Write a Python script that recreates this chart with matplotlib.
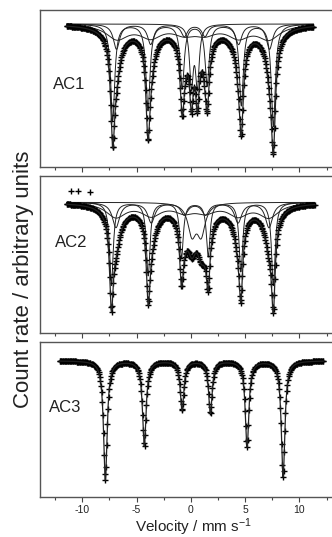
import numpy as np
import matplotlib
matplotlib.use('Agg')
from matplotlib import pyplot as plt
from matplotlib.ticker import MultipleLocator

plt.rcParams['font.family'] = ['Liberation Sans', 'DejaVu Sans']
plt.rcParams['axes.unicode_minus'] = False
plt.rcParams['mathtext.fontset'] = 'custom'
plt.rcParams['mathtext.rm'] = 'Liberation Sans'
plt.rcParams['mathtext.default'] = 'regular'

# Fitted subspectra: line positions (mm/s),
# line depths (% absorption) and line width (FWHM, mm/s)
ac1_s1_pos = [-7.2, -3.95, -0.8, 1.5, 4.65, 7.6]
ac1_s1_depth = [9.6, 8.6, 6.4, 6.1, 8.1, 10.2]
ac1_s1_fwhm = 0.45
ac1_s2_pos = [-6.85, -3.7, -0.6, 1.3, 4.4, 7.25]
ac1_s2_depth = [2.5, 2.0, 1.2, 1.2, 2.0, 2.5]
ac1_s2_fwhm = 0.7
ac1_b_pos = [-6.8, -3.7, -0.6, 1.3, 4.4, 7.2]
ac1_b_depth = [1.4, 1.2, 0.8, 0.8, 1.2, 1.4]
ac1_b_fwhm = 2.4
ac1_d_pos = [0.05, 0.6]
ac1_d_depth = [6.0, 6.0]
ac1_d_fwhm = 0.4

ac2_s1_pos = [-7.32, -3.93, -0.86, 1.6, 4.61, 7.6]
ac2_s1_depth = [8.3, 7.3, 5.5, 5.4, 6.9, 8.3]
ac2_s1_fwhm = 0.4
ac2_s2_pos = [-6.9, -3.65, -0.6, 1.35, 4.35, 7.2]
ac2_s2_depth = [2.5, 2.0, 1.2, 1.2, 2.0, 2.5]
ac2_s2_fwhm = 0.8
ac2_b_pos = [-6.9, -3.65, -0.6, 1.35, 4.35, 7.2]
ac2_b_depth = [1.4, 1.2, 0.8, 0.8, 1.2, 1.4]
ac2_b_fwhm = 2.2
ac2_d_pos = [0.1, 0.95]
ac2_d_depth = [3.0, 3.0]
ac2_d_fwhm = 0.9
# stray counts above the baseline at the left end of AC2
ac2_stray_vel = [-11.0, -10.4, -9.3]
ac2_stray_val = [101.1, 101.1, 101.0]

ac3_s1_pos = [-7.88, -4.29, -0.81, 1.8, 5.18, 8.5]
ac3_s1_depth = [11.9, 8.5, 4.9, 5.2, 8.6, 11.6]
ac3_s1_fwhm = 0.4

# measured velocity range of each spectrum
ac1_range = [-11.45, 11.3]
ac2_range = [-11.45, 11.4]
ac3_range = [-12.1, 12.2]

labels = ['AC1', 'AC2', 'AC3']
ylims = [(85.7, 101.4), (86.93, 102.63), (86.37, 101.92)]


def lines(v, pos, depth, fwhm):
    out = np.zeros_like(v)
    for p, d in zip(pos, depth):
        out += d / (1 + ((v - p) / (fwhm / 2)) ** 2)
    return out


spectra = [
    (ac1_range, [(ac1_s1_pos, ac1_s1_depth, ac1_s1_fwhm),
                 (ac1_s2_pos, ac1_s2_depth, ac1_s2_fwhm),
                 (ac1_b_pos, ac1_b_depth, ac1_b_fwhm),
                 (ac1_d_pos, ac1_d_depth, ac1_d_fwhm)]),
    (ac2_range, [(ac2_s1_pos, ac2_s1_depth, ac2_s1_fwhm),
                 (ac2_s2_pos, ac2_s2_depth, ac2_s2_fwhm),
                 (ac2_b_pos, ac2_b_depth, ac2_b_fwhm),
                 (ac2_d_pos, ac2_d_depth, ac2_d_fwhm)]),
    (ac3_range, [(ac3_s1_pos, ac3_s1_depth, ac3_s1_fwhm)]),
]

fig = plt.figure(figsize=(3.32, 5.37), dpi=100)
bottoms = [1 - 167 / 537, 1 - 333 / 537, 1 - 497 / 537]
heights = [157 / 537, 157 / 537, 155.5 / 537]
ink = '#222222'

for i, (rng, comps) in enumerate(spectra):
    ax = fig.add_axes([40 / 332, bottoms[i], 0.912, heights[i]])
    v_fine = np.linspace(rng[0], rng[1], 2000)
    v_chan = np.linspace(rng[0], rng[1], 420)
    total_fine = np.zeros_like(v_fine)
    total_chan = np.zeros_like(v_chan)
    for pos, depth, fwhm in comps:
        c = lines(v_fine, pos, depth, fwhm)
        total_fine += c
        total_chan += lines(v_chan, pos, depth, fwhm)
        if len(comps) > 1:
            ax.plot(v_fine, 100 - c, color=ink, lw=0.7)
    ax.plot(v_chan, 100 - total_chan, '+', color='k', ms=5, mew=1.0)
    if i == 1:
        ax.plot(ac2_stray_vel, ac2_stray_val, '+', color='k', ms=5, mew=1.0)
    ax.plot(v_fine, 100 - total_fine, color=ink, lw=0.9)

    ax.set_xlim(-13.9, 14.0)
    ax.set_ylim(*ylims[i])
    ax.set_yticks([])
    ax.xaxis.set_major_locator(MultipleLocator(5))
    ax.xaxis.set_minor_locator(MultipleLocator(2.5))
    ax.tick_params(axis='x', which='major', direction='out', length=3.5,
                   width=0.8, color='#444444', labelsize=7.5, pad=2.5,
                   labelcolor=ink)
    ax.tick_params(axis='x', which='minor', direction='out', length=2,
                   width=0.8, color='#444444')
    for s in ax.spines.values():
        s.set_color('#555555')
        s.set_linewidth(1.0)
    if i < 2:
        ax.set_xticklabels([])

fig.text(53 / 332, 1 - 84 / 537, labels[0], fontsize=12, color=ink,
         ha='left', va='center')
fig.text(55 / 332, 1 - 242 / 537, labels[1], fontsize=12, color=ink,
         ha='left', va='center')
fig.text(49 / 332, 1 - 407.5 / 537, labels[2], fontsize=12, color=ink,
         ha='left', va='center')

fig.text(24 / 332, 1 - 279.5 / 537, 'Count rate / arbitrary units',
         rotation=90, fontsize=16, color=ink, ha='center', va='center')
fig.text(194 / 332, 1 - 531.5 / 537, 'Velocity / mm s$^{-1}$',
         fontsize=11, color=ink, ha='center', va='baseline')

fig.savefig('out.png', dpi=100)
